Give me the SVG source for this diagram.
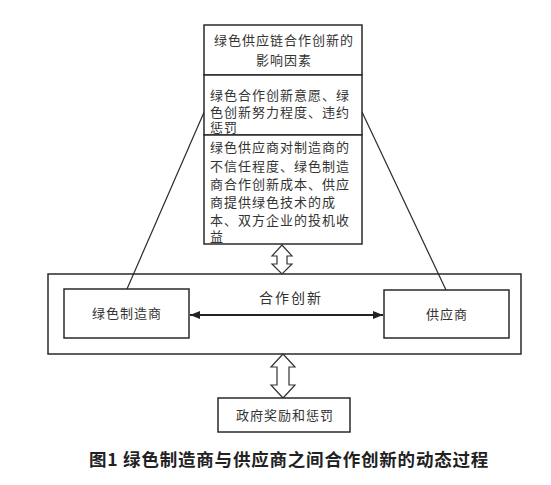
<svg xmlns="http://www.w3.org/2000/svg" width="551" height="485" viewBox="0 0 551 485">
<style>
.box{fill:#fff;stroke:#2a2a2a;stroke-width:1.5}
.t{font-family:"Liberation Serif","Noto Sans CJK SC",serif;font-size:13px;letter-spacing:1px;fill:#333}
.c{text-anchor:middle}
.ln{stroke:#2a2a2a;stroke-width:1.2;fill:none}
.dbl{fill:#fff;stroke:#333;stroke-width:1.2}
</style>
<defs>
<marker id="ah" viewBox="0 0 10 10" refX="10" refY="5" markerWidth="5" markerHeight="5" orient="auto-start-reverse">
<path d="M0,1 L10,5 L0,9 z" fill="#222"/>
</marker>
</defs>
<rect width="551" height="485" fill="#fff"/>
<g id="outer">
<rect class="box" x="48" y="274" width="473" height="80" stroke-width="2"/>
</g>
<g id="connectors">
<line class="ln" x1="205" y1="110" x2="127" y2="289"/>
<line class="ln" x1="362" y1="112" x2="446" y2="290"/>
<line x1="190" y1="315" x2="383" y2="315" stroke="#222" stroke-width="2" marker-start="url(#ah)" marker-end="url(#ah)"/>
<path class="dbl" d="M282,245 L292,256 L287,256 L287,264 L292,264 L282,274 L272,264 L277,264 L277,256 L272,256 Z"/>
<path class="dbl" d="M283,354 L295,367 L289,367 L289,385 L295,385 L283,398 L271,385 L277,385 L277,367 L271,367 Z"/>
</g>
<g id="factors">
<rect class="box" x="204" y="25" width="158" height="50"/>
<text class="t c" x="284" y="45">绿色供应链合作创新的</text>
<text class="t c" x="284" y="65">影响因素</text>
</g>
<g id="willingness">
<rect class="box" x="204" y="75" width="158" height="60"/>
<text class="t" x="210" y="100">绿色合作创新意愿、绿</text>
<text class="t" x="210" y="117">色创新努力程度、违约</text>
<text class="t" x="210" y="132">惩罚</text>
</g>
<g id="costs">
<rect class="box" x="204" y="135" width="158" height="109"/>
<text class="t" x="210" y="152">绿色供应商对制造商的</text>
<text class="t" x="210" y="171">不信任程度、绿色制造</text>
<text class="t" x="210" y="189">商合作创新成本、供应</text>
<text class="t" x="210" y="207">商提供绿色技术的成</text>
<text class="t" x="210" y="225">本、双方企业的投机收</text>
<text class="t" x="210" y="241">益</text>
</g>
<g id="manufacturer">
<rect class="box" x="64" y="289" width="125" height="49"/>
<text class="t c" x="127" y="318">绿色制造商</text>
</g>
<g id="supplier">
<rect class="box" x="384" y="290" width="125" height="48"/>
<text class="t c" x="447" y="319">供应商</text>
</g>
<g id="label">
<text class="t c" x="291" y="303" style="font-size:14px;letter-spacing:2px">合作创新</text>
</g>
<g id="government">
<rect class="box" x="218" y="398" width="132" height="34"/>
<text class="t c" x="285" y="420">政府奖励和惩罚</text>
</g>
<g id="caption">
<text x="289" y="466" text-anchor="middle" style="font-family:'Noto Sans CJK SC',sans-serif;font-size:17.5px;letter-spacing:0.8px;font-weight:bold;fill:#222">图1 绿色制造商与供应商之间合作创新的动态过程</text>
</g>
</svg>
